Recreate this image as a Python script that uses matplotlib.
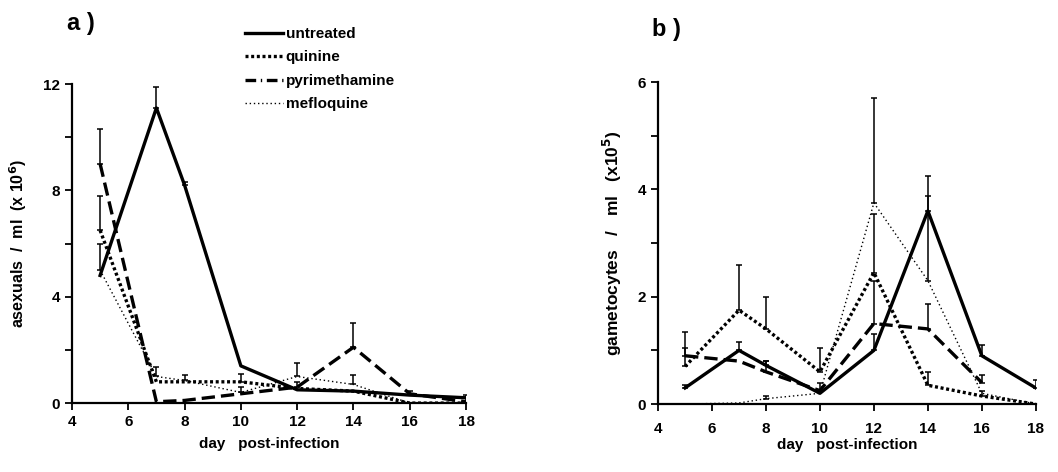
import numpy as np
import matplotlib
matplotlib.use('Agg')
import matplotlib.pyplot as plt
from matplotlib.lines import Line2D

plt.rcParams.update({'font.family': ['Liberation Sans', 'DejaVu Sans'],
                     'font.weight': 'bold', 'font.size': 10})

# treatment groups
groups = ['untreated', 'quinine', 'pyrimethamine', 'mefloquine']
days = [5, 7, 8, 10, 12, 14, 16, 18]

# a) asexuals / ml (x 10^6), mean and upper error
asex_untreated = [4.8, 11.1, 8.2, 1.4, 0.5, 0.45, 0.3, 0.2]
asex_untreated_err = [0, 0.8, 0.1, 0, 0, 0, 0, 0]
asex_quinine = [6.5, 0.8, 0.8, 0.8, 0.55, 0.45, 0.0, 0.0]
asex_quinine_err = [1.3, 0, 0, 0.3, 0, 0, 0, 0]
asex_pyrimethamine = [9.0, 0.05, 0.1, 0.35, 0.6, 2.1, 0.35, 0.05]
asex_pyrimethamine_err = [1.3, 0, 0, 0, 0.2, 0.9, 0.1, 0]
asex_mefloquine = [5.0, 1.0, 0.85, 0.4, 1.0, 0.7, 0.0, 0.0]
asex_mefloquine_err = [1.0, 0.35, 0.2, 0.2, 0.5, 0.35, 0, 0.3]

# b) gametocytes / ml (x 10^5)
gam_untreated = [0.3, 1.0, 0.72, 0.2, 1.0, 3.6, 0.9, 0.3]
gam_untreated_err = [0.05, 0.15, 0.08, 0, 0.3, 0.65, 0.2, 0.15]
gam_quinine = [0.7, 1.75, 1.4, 0.6, 2.45, 0.35, 0.15, 0.0]
gam_quinine_err = [0.65, 0.85, 0.6, 0.45, 1.1, 0.25, 0.1, 0]
gam_pyrimethamine = [0.9, 0.8, 0.6, 0.25, 1.5, 1.4, 0.4, np.nan]
gam_pyrimethamine_err = [0.15, 0, 0.2, 0.15, 0.8, 0.47, 0.15, 0]
gam_mefloquine = [0.0, 0.02, 0.1, 0.2, 3.75, 2.3, 0.2, 0.0]
gam_mefloquine_err = [0, 0, 0.05, 0, 1.95, 1.58, 0, 0]

styles = {
    'untreated': dict(color='black', lw=2.4, linestyle='-'),
    'quinine': dict(color='black', lw=2.4, linestyle=(0, (0.9, 0.8))),
    'pyrimethamine': dict(color='black', lw=2.4, linestyle=(0, (4, 1.8))),
    'mefloquine': dict(color='black', lw=1.0, linestyle=(0, (1, 2))),
}

fig = plt.figure(figsize=(10.58, 4.72), dpi=100)
ax_a = fig.add_axes([0.068, 0.146, 0.3725, 0.676])
ax_b = fig.add_axes([0.622, 0.144, 0.357, 0.682])

def draw(ax, series, ymax, ymajor, label, xpad, lsize, xlpad):
    for name, (vals, errs) in zip(groups, series):
        vals = np.array(vals, dtype=float)
        errs = np.array(errs, dtype=float)
        ax.plot(days, vals, **styles[name], zorder=3)
        m = errs > 0
        ax.errorbar(np.array(days)[m], vals[m], yerr=[np.zeros(m.sum()), errs[m]],
                    fmt='none', ecolor='black', elinewidth=1.1, capsize=2.5,
                    capthick=1.1, zorder=2)
    ax.set_xlim(4, 18)
    ax.set_ylim(0, ymax)
    ax.set_xticks(range(4, 19, 2))
    ax.set_yticks(np.arange(0, ymax + 0.01, ymajor))
    ax.set_yticks(np.arange(ymajor / 2, ymax, ymajor), minor=True)
    ax.spines['top'].set_visible(False)
    ax.spines['right'].set_visible(False)
    ax.spines['left'].set_linewidth(1.6)
    ax.spines['bottom'].set_linewidth(1.6)
    ax.tick_params(which='both', direction='out', length=5, width=1.3, labelsize=11)
    ax.tick_params(axis='x', pad=xpad)
    ax.set_xlabel('day   post-infection', fontsize=11, fontweight='bold', labelpad=xlpad)
    ax.set_ylabel(label, fontsize=lsize, fontweight='bold', labelpad=10)
    for t in ax.get_xticklabels() + ax.get_yticklabels():
        t.set_fontweight('bold')

draw(ax_a, [(asex_untreated, asex_untreated_err), (asex_quinine, asex_quinine_err),
            (asex_pyrimethamine, asex_pyrimethamine_err), (asex_mefloquine, asex_mefloquine_err)],
     12, 4, 'asexuals  /  ml  (x 10$^{\\mathbf{6}}$)', 3.5, 11.5, 6)
draw(ax_b, [(gam_untreated, gam_untreated_err), (gam_quinine, gam_quinine_err),
            (gam_pyrimethamine, gam_pyrimethamine_err), (gam_mefloquine, gam_mefloquine_err)],
     6, 2, 'gametocytes   /   ml   (x10$^{\\mathbf{5}}$)', 8, 12.5, 1.5)

fig.text(0.063, 0.975, 'a )', fontsize=17, fontweight='bold', va='top')
fig.text(0.616, 0.962, 'b )', fontsize=17, fontweight='bold', va='top')

handles = [Line2D([], [], **styles['untreated']),
           Line2D([], [], **styles['quinine']),
           Line2D([], [], color='black', lw=2.4, linestyle=(0, (3.2, 1.4, 0.4, 1.4))),
           Line2D([], [], **styles['mefloquine'])]
fig.legend(handles, groups, loc='upper left', bbox_to_anchor=(0.2316, 0.943),
           frameon=False, handlelength=2.5, handletextpad=0.15, labelspacing=0.62,
           borderpad=0, borderaxespad=0, prop={'weight': 'bold', 'size': 11})

plt.savefig('out.png', dpi=100)
plt.close()
